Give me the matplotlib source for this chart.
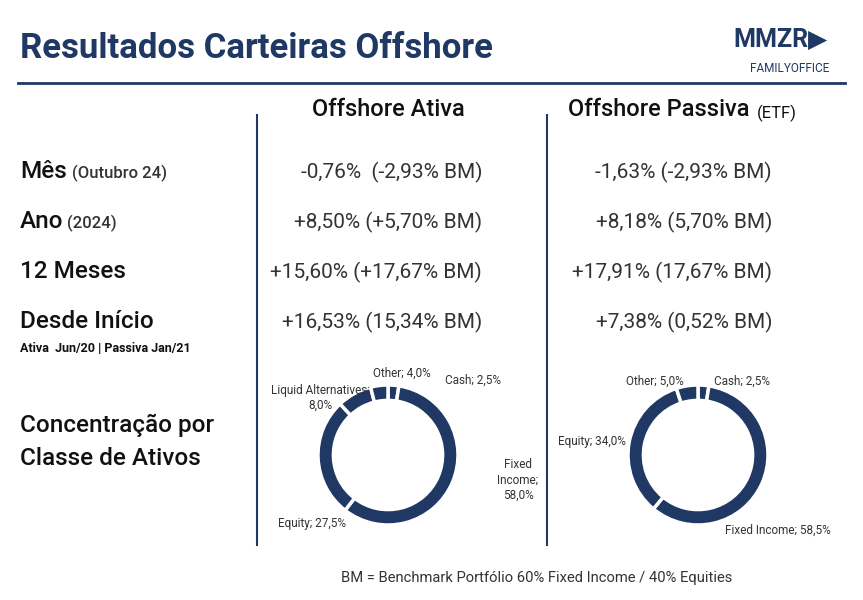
import matplotlib
matplotlib.use('Agg')
import matplotlib.pyplot as plt

NAVY = '#1f3864'
GREY = '#333333'

row_labels = ['Mês', 'Ano', '12 Meses', 'Desde Início']
row_notes = ['(Outubro 24)', '(2024)', '', '']
ativa_values = ['-0,76%  (-2,93% BM)', '+8,50% (+5,70% BM)',
                '+15,60% (+17,67% BM)', '+16,53% (15,34% BM)']
passiva_values = ['-1,63% (-2,93% BM)', '+8,18% (5,70% BM)',
                  '+17,91% (17,67% BM)', '+7,38% (0,52% BM)']

ativa_classes = ['Cash', 'Fixed Income', 'Equity', 'Liquid Alternatives', 'Other']
ativa_shares = [2.5, 58.0, 27.5, 8.0, 4.0]
passiva_classes = ['Cash', 'Fixed Income', 'Equity', 'Other']
passiva_shares = [2.5, 58.5, 34.0, 5.0]

W, H = 863, 600


def px(x, y):
    """pixel position -> figure fraction"""
    return x / W, 1 - y / H


def donut(fig, cx, cy, r, shares):
    x0, y0 = px(cx - r, cy + r)
    ax = fig.add_axes([x0, y0, 2 * r / W, 2 * r / H])
    ax.pie(shares, colors=[NAVY] * len(shares), startangle=90,
           counterclock=False, radius=1,
           wedgeprops=dict(width=0.22, edgecolor='white', linewidth=2.5))
    ax.set_xlim(-1, 1)
    ax.set_ylim(-1, 1)
    ax.set_aspect('equal')
    return ax


def main():
    plt.rcParams['font.family'] = ['Roboto', 'DejaVu Sans']
    fig = plt.figure(figsize=(W / 100, H / 100), dpi=100)

    # title and logo
    fig.text(*px(20, 48), 'Resultados Carteiras Offshore', fontsize=25,
             fontweight='bold', color=NAVY, va='center')
    fig.add_artist(plt.Line2D([18 / W, 845 / W], [1 - 83 / H] * 2,
                              color=NAVY, lw=2))
    fig.text(*px(780, 40), 'MMZR\u25B6', fontsize=18, fontweight='bold',
             color=NAVY, ha='center', va='center')
    fig.text(*px(790, 68), 'FAMILYOFFICE', fontsize=8.5, color=NAVY,
             ha='center', va='center')

    # column separators
    for xv in (257, 547):
        fig.add_artist(plt.Line2D([xv / W] * 2, [1 - 115 / H, 1 - 545 / H],
                                  color=NAVY, lw=1.5))

    fig.text(*px(388, 110), 'Offshore Ativa', fontsize=17, color='#111111',
             fontweight='medium', ha='center', va='center')
    fig.text(*px(568, 110), 'Offshore Passiva', fontsize=17,
             fontweight='medium', color='#111111', ha='left', va='center')
    fig.text(*px(757, 113), '(ETF)', fontsize=12, color='#111111',
             ha='left', va='center')

    # rows
    ys = [172, 222, 272, 322]
    note_x = {'Mês': 72, 'Ano': 67}
    for label, note, va_, vp, y in zip(row_labels, row_notes, ativa_values,
                                       passiva_values, ys):
        fig.text(*px(20, y), label, fontsize=17.5, fontweight='medium',
                 color='#111111', va='center')
        if note:
            fig.text(*px(note_x[label], y + 1), note, fontsize=12,
                     fontweight='medium', color=GREY, va='center')
        fig.text(*px(482, y), va_, fontsize=15, color=GREY,
                 ha='right', va='center')
        fig.text(*px(772, y), vp, fontsize=15, color=GREY,
                 ha='right', va='center')
    fig.text(*px(20, 348), 'Ativa  Jun/20 | Passiva Jan/21', fontsize=9,
             fontweight='bold', color='#111111', va='center')

    fig.text(*px(20, 442), 'Concentração por\nClasse de Ativos', fontsize=17.5,
             fontweight='medium', color='#111111', va='center',
             linespacing=1.55)

    # donuts
    donut(fig, 388, 455, 70, ativa_shares)
    donut(fig, 698, 455, 70, passiva_shares)

    lab = dict(fontsize=8.5, color=GREY)
    fig.text(*px(445, 380), 'Cash; 2,5%', va='center', **lab)
    fig.text(*px(402, 373), 'Other; 4,0%', ha='center', va='center', **lab)
    fig.text(*px(320, 398), 'Liquid Alternatives;\n8,0%', ha='center',
             va='center', **lab)
    fig.text(*px(518, 480), 'Fixed\nIncome;\n58,0%', ha='center',
             va='center', **lab)
    fig.text(*px(312, 523), 'Equity; 27,5%', ha='center', va='center', **lab)
    fig.text(*px(655, 381), 'Other; 5,0%', ha='center', va='center', **lab)
    fig.text(*px(742, 381), 'Cash; 2,5%', ha='center', va='center', **lab)
    fig.text(*px(592, 441), 'Equity; 34,0%', ha='center', va='center', **lab)
    fig.text(*px(778, 530), 'Fixed Income; 58,5%', ha='center',
             va='center', **lab)

    fig.text(*px(537, 578),
             'BM = Benchmark Portfólio 60% Fixed Income / 40% Equities',
             fontsize=10.6, color=GREY, ha='center', va='center')

    fig.savefig('out.png', dpi=100)
    plt.close(fig)


if __name__ == '__main__':
    main()
